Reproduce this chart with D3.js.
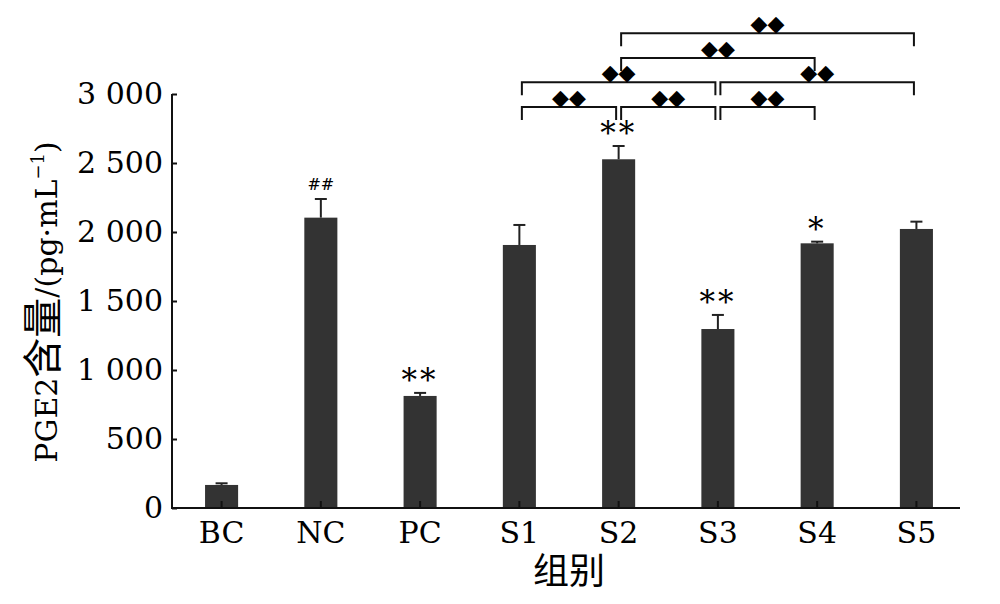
<!DOCTYPE html>
<html>
<head>
<meta charset="utf-8">
<script src="https://cdn.jsdelivr.net/npm/d3@7"></script>
<style>
  body { margin: 0; background: #fff; }
  text { font-family: "DejaVu Serif", "Liberation Serif", serif; fill: #000; }
  .cjk { font-family: "Noto Sans CJK SC", sans-serif; }
</style>
</head>
<body>
<script>
const groups = ["BC", "NC", "PC", "S1", "S2", "S3", "S4", "S5"]
const means  = [167, 2104, 812, 1906, 2527, 1297, 1918, 2022]
const errs   = [12, 135, 22, 145, 96, 102, 12, 53]
const marks  = ["", "##", "**", "", "**", "**", "*", ""]

const yTicks = [0, 500, 1000, 1500, 2000, 2500, 3000]
const yTickLabels = ["0", "500", "1 000", "1 500", "2 000", "2 500", "3 000"]

// pairwise comparisons drawn above the bars: [from, to, bracket height (data units)]
const compFrom = ["S1", "S2", "S3", "S1", "S3", "S2", "S2"]
const compTo   = ["S2", "S3", "S4", "S3", "S5", "S4", "S5"]
const compAt   = [2905, 2905, 2905, 3085, 3085, 3260, 3440]
const compMark = ["◆◆", "◆◆", "◆◆", "◆◆", "◆◆", "◆◆", "◆◆"]

let width = 1000, height = 604
let x0 = 172, x1 = 966, yBase = 508, yTop = 94

let x = d3.scaleBand().domain(groups).range([x0, x1]).paddingInner(0.667).paddingOuter(0.333)
let y = d3.scaleLinear().domain([0, 3000]).range([yBase, yTop])

let svg = d3.select('body').append('svg')
  .attr('width', width)
  .attr('height', height)

let cx = g => x(g) + x.bandwidth() / 2

// bars
svg.append('g').selectAll('rect')
  .data(groups)
  .enter().append('rect')
  .attr('x', d => x(d))
  .attr('y', (d, i) => y(means[i]))
  .attr('width', x.bandwidth())
  .attr('height', (d, i) => y(0) - y(means[i]))
  .attr('fill', '#333')

// error bars (upper only)
let eb = svg.append('g').attr('stroke', '#222').attr('stroke-width', 2)
groups.forEach((g, i) => {
  eb.append('line')
    .attr('x1', cx(g)).attr('x2', cx(g))
    .attr('y1', y(means[i])).attr('y2', y(means[i] + errs[i]))
  eb.append('line')
    .attr('x1', cx(g) - 6).attr('x2', cx(g) + 6)
    .attr('y1', y(means[i] + errs[i])).attr('y2', y(means[i] + errs[i]))
})

// significance marks above bars
svg.append('g').selectAll('text')
  .data(groups)
  .enter().append('text')
  .attr('x', d => cx(d))
  .attr('y', (d, i) => y(means[i] + errs[i]) - (marks[i] == "##" ? 9 : 2))
  .attr('text-anchor', 'middle')
  .attr('font-size', d => marks[groups.indexOf(d)] == "##" ? 16 : 31)
  .attr('font-style', d => marks[groups.indexOf(d)] == "##" ? 'italic' : 'normal')
  .attr('letter-spacing', d => marks[groups.indexOf(d)] == "##" ? 0 : 3)
  .text((d, i) => marks[i])

// x axis
let xAxis = svg.append('g')
  .attr('transform', 'translate(0,' + yBase + ')')
  .call(d3.axisBottom(x).tickSize(-7).tickPadding(14))
xAxis.select('.domain').remove()
xAxis.selectAll('line').attr('stroke', '#111').attr('stroke-width', 2)
xAxis.selectAll('text').attr('font-size', 30).attr('font-family', '"DejaVu Serif", serif').attr('fill', '#000')

// y axis
let yAxis = svg.append('g')
  .attr('transform', 'translate(' + x0 + ',0)')
  .call(d3.axisLeft(y).tickValues(yTicks).tickFormat((d, i) => yTickLabels[i]).tickSize(-5).tickPadding(9))
yAxis.select('.domain').remove()
yAxis.selectAll('line').attr('stroke', '#111').attr('stroke-width', 2)
yAxis.selectAll('text').attr('font-size', 30).attr('font-family', '"DejaVu Serif", serif').attr('fill', '#000')

// axis lines
svg.append('path')
  .attr('d', 'M' + x0 + ',' + yTop + 'V' + yBase + 'H960')
  .attr('fill', 'none')
  .attr('stroke', '#111')
  .attr('stroke-width', 2)

// comparison brackets
let br = svg.append('g')
compFrom.forEach((f, i) => {
  let a = cx(f) + 2.5, b = cx(compTo[i]) - 2.5, h = y(compAt[i])
  br.append('path')
    .attr('d', 'M' + a + ',' + (h + 13) + 'V' + h + 'H' + b + 'V' + (h + 13))
    .attr('fill', 'none')
    .attr('stroke', '#111')
    .attr('stroke-width', 2)
  br.append('text')
    .attr('x', (a + b) / 2)
    .attr('y', h - 2)
    .attr('text-anchor', 'middle')
    .attr('font-family', '"DejaVu Sans", sans-serif')
    .attr('font-size', 22)
    .attr('letter-spacing', 0)
    .text(compMark[i])
})

// axis titles
svg.append('text')
  .attr('transform', 'translate(57,302) rotate(-90)')
  .attr('text-anchor', 'middle')
  .attr('font-size', 30)
  .call(t => {
    t.append('tspan').text('PGE2')
    t.append('tspan').attr('class', 'cjk').attr('font-size', 40).text('含量')
    t.append('tspan').text('/(pg·mL')
    t.append('tspan').attr('font-size', 18).attr('dy', -13).text('−1')
    t.append('tspan').attr('dy', 13).text(')')
  })

svg.append('text')
  .attr('class', 'cjk')
  .attr('x', 569)
  .attr('y', 584)
  .attr('text-anchor', 'middle')
  .attr('font-size', 36)
  .text('组别')
</script>
</body>
</html>
